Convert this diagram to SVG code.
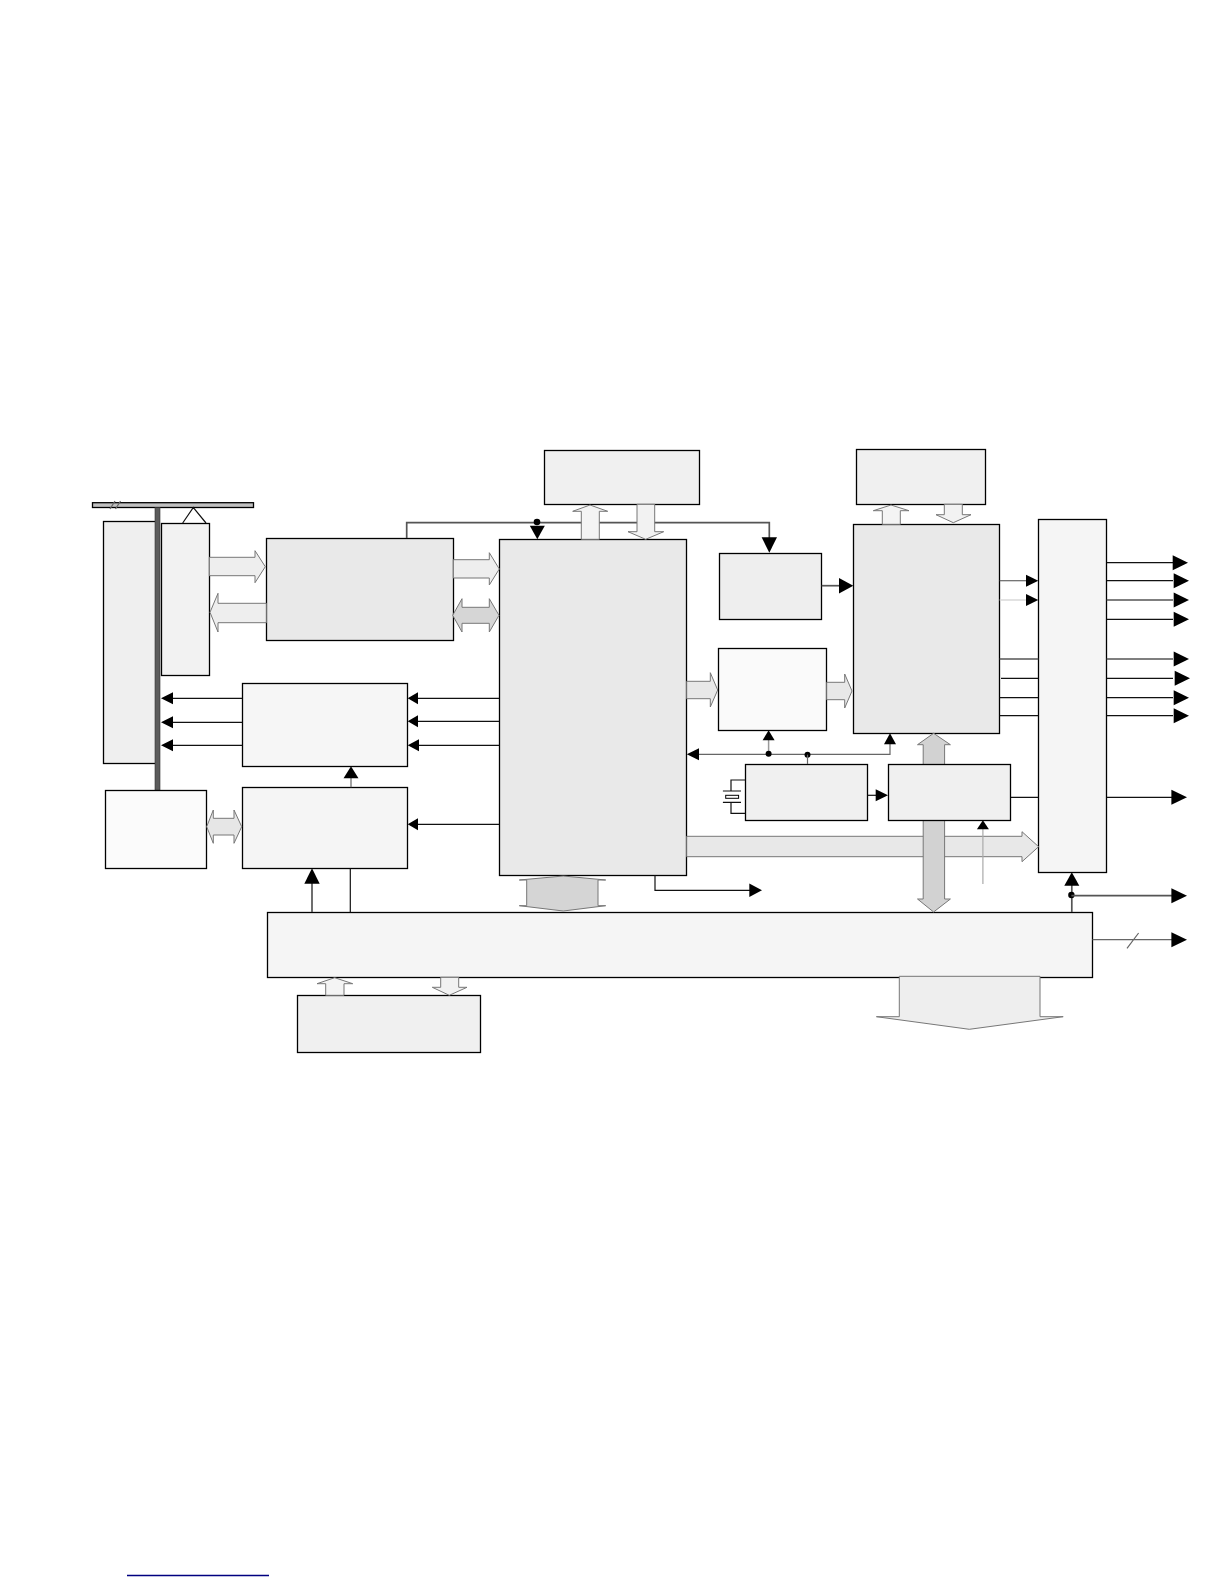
<svg xmlns="http://www.w3.org/2000/svg" width="1224" height="1584" viewBox="0 0 1224 1584">
<style>
.n{stroke:#000;stroke-width:1.3}
.w{stroke:#777;stroke-width:1;stroke-linejoin:miter}
.l{fill:none;stroke:#111;stroke-width:1.2}
.g{fill:none;stroke:#666;stroke-width:1.2}
.t{fill:none;stroke:#555;stroke-width:1.7}
.h{fill:#000;stroke:none}
</style>
<rect width="1224" height="1584" fill="#fff"/>
<g id="bus-top"><rect x="92.5" y="502.7" width="161" height="4.8" fill="#c0c0c0" class="n"/><path d="M110 509L115 501M115.500 509L120.500 501" class="g"/><path d="M182.700 523L193.300 507.500L206 523" class="l" stroke-width="1"/></g>
<g id="node-left"><rect x="103.500" y="521.500" width="53" height="242" fill="#efefef" class="n"/></g>
<g id="bus-vertical"><rect x="155" y="507.500" width="5" height="283" fill="#5c5c5c" stroke="#333" stroke-width=".6"/></g>
<g id="node-antenna"><rect x="161.500" y="523.500" width="48" height="152" fill="#f2f2f2" class="n"/></g>
<g id="node-rf"><rect x="266.500" y="538.500" width="187" height="102" fill="#e9e9e9" class="n"/></g>
<g id="node-driver"><rect x="242.500" y="683.500" width="165" height="83" fill="#f6f6f6" class="n"/></g>
<g id="node-codec"><rect x="242.500" y="787.500" width="165" height="81" fill="#f5f5f5" class="n"/></g>
<g id="node-sim"><rect x="105.500" y="790.500" width="101" height="78" fill="#fbfbfb" class="n"/></g>
<g id="node-main"><rect x="499.500" y="539.500" width="187" height="336" fill="#e9e9e9" class="n"/></g>
<g id="node-mem1"><rect x="544.500" y="450.500" width="155" height="54" fill="#f0f0f0" class="n"/></g>
<g id="node-mem2"><rect x="856.500" y="449.500" width="129" height="55" fill="#f0f0f0" class="n"/></g>
<g id="node-ctrl"><rect x="719.500" y="553.500" width="102" height="66" fill="#eee" class="n"/></g>
<g id="node-fft"><rect x="718.500" y="648.500" width="108" height="82" fill="#fafafa" class="n"/></g>
<g id="node-proc"><rect x="853.500" y="524.500" width="146" height="209" fill="#e9e9e9" class="n"/></g>
<g id="node-out"><rect x="1038.500" y="519.500" width="68" height="353" fill="#f5f5f5" class="n"/></g>
<g id="node-clock"><rect x="745.500" y="764.500" width="122" height="56" fill="#f0f0f0" class="n"/></g>
<g id="node-bus"><rect x="267.500" y="912.500" width="825" height="65" fill="#f5f5f5" class="n"/></g>
<g id="node-lower"><rect x="297.500" y="995.500" width="183" height="57" fill="#f0f0f0" class="n"/></g>
<g id="connectors">
<polygon class="w" fill="#eee" points="209.300,557.300 255,557.300 255,550.700 265.300,566.700 255,582.700 255,575.700 209.300,575.700"/>
<polygon class="w" fill="#eee" points="266.300,603.300 218,603.300 218,593.300 210,612.300 218,632 218,622.700 266.300,622.700"/>
<polygon class="w" fill="#eee" points="453.300,559.700 489.300,559.700 489.300,552.700 499.300,569 489.300,585 489.300,578 453.300,578"/>
<polygon class="w" fill="#d6d6d6" points="452.700,615.300 462,598.700 462,607.300 489.300,607.300 489.300,598.700 499,615.300 489.300,632 489.300,623.300 462,623.300 462,632"/>
<polygon class="w" fill="#e6e6e6" points="206.700,826.700 213.300,810 213.300,818.300 234,818.300 234,810 241.700,826.700 234,843.300 234,835 213.300,835 213.300,843.300"/>
<path class="t" d="M406.700 538V522.700H769.300V538"/>
<circle class="h" cx="537" cy="522" r="3.300"/><polygon class="h" points="537.300,539.300 529.800,525.700 544.800,525.700"/>
<polygon class="h" points="769.300,552.700 761.600,537.300 777,537.300"/>
<polygon class="w" fill="#f4f4f4" points="581.300,539.300 581.300,511.300 572.700,511.300 590,505 607.700,511.300 599.300,511.300 599.300,539.300"/>
<polygon class="w" fill="#f2f2f2" points="637,504.300 654.700,504.300 654.700,531.700 663.700,531.700 645.700,539.300 628,531.700 637,531.700"/>
<polygon class="w" fill="#f4f4f4" points="882.300,524.300 882.300,510.700 873.300,510.700 891,505 909,510.700 900.300,510.700 900.300,524.300"/>
<polygon class="w" fill="#f2f2f2" points="944.300,504.300 962.300,504.300 962.300,514.700 971,514.700 953.300,522.700 936,514.700 944.300,514.700"/>
<polygon class="w" fill="#e8e8e8" points="686.700,681.300 710.300,681.300 710.300,672.700 717.700,690 710.300,707 710.300,698.700 686.700,698.700"/>
<polygon class="w" fill="#e8e8e8" points="826.700,682.300 844.700,682.300 844.700,674 852,691 844.700,708 844.700,699.700 826.700,699.700"/>
<path class="t" d="M821.700 585.700H840"/><polygon class="h" points="853.300,585.700 839,578 839,593.400"/>
<path class="l" d="M242.300 698.300H172M242.300 722.300H172M242.300 745.300H172M499.300 698.300H418M499.300 721.300H418M499.300 745.300H418M499.300 824.300H418"/>
<polygon class="h" points="161,698.300 173,692.300 173,704.300"/><polygon class="h" points="161,722.300 173,716.300 173,728.300"/><polygon class="h" points="161,745.300 173,739.300 173,751.300"/>
<polygon class="h" points="407.700,698.300 418,692.300 418,704.300"/><polygon class="h" points="407.700,721.300 418,715.300 418,727.300"/><polygon class="h" points="407.700,745.300 419,739.300 419,751.300"/><polygon class="h" points="407.700,824.300 418,818.300 418,830.300"/>
<path class="g" d="M351 787.300V778" stroke-width="1.500"/><polygon class="h" points="351,766.300 343.500,778.300 358.500,778.300"/>
<path class="t" d="M312 912V883" stroke-width="2"/><polygon class="h" points="312,868.300 304.300,883.700 319.700,883.700"/>
<path class="l" d="M350.300 868.500V912.500"/>
<path class="g" d="M999.700 580.700H1027"/><path d="M999.700 600H1027" fill="none" stroke="#d8d8d8" stroke-width="1.500"/>
<polygon class="h" points="1038.300,580.700 1026,574.700 1026,586.700"/><polygon class="h" points="1038.300,600 1026,594 1026,606"/>
<path class="t" d="M999.700 659H1038.300"/><path class="l" d="M1001 678.300H1038.300M999.700 697.700H1038.300M999.700 715.700H1038.300"/>
<path class="l" d="M1106.700 562.700H1173M1106.700 580.700H1173M1106.700 619.300H1173M1106.700 678.300H1173M1106.700 697.700H1173M1106.700 715.700H1173"/><path class="t" d="M1106.700 600H1173M1106.700 659H1173"/>
<polygon class="h" points="1188,562.700 1172.700,555.200 1172.700,570.200"/><polygon class="h" points="1189,580.700 1173.700,573.200 1173.700,588.200"/><polygon class="h" points="1189,600 1173.700,592.500 1173.700,607.500"/><polygon class="h" points="1189,619.300 1173.700,611.800 1173.700,626.800"/><polygon class="h" points="1189,659 1173.700,651.500 1173.700,666.500"/><polygon class="h" points="1190,678.300 1174.700,670.800 1174.700,685.800"/><polygon class="h" points="1189,697.700 1173.700,690.200 1173.700,705.200"/><polygon class="h" points="1189,715.700 1173.700,708.200 1173.700,723.200"/>
<path class="g" d="M699 754.300H890V744"/><polygon class="h" points="686.800,754.300 699,748.300 699,760.300"/><polygon class="h" points="890,733.300 884,744.300 896,744.300"/>
<path d="M768.600 753.700V740" fill="none" stroke="#999" stroke-width="1.500"/><polygon class="h" points="768.600,730.300 762.600,740.300 774.600,740.300"/><circle class="h" cx="768.600" cy="753.700" r="3"/>
<circle class="h" cx="807.500" cy="754.700" r="3"/><path class="g" d="M807.500 754.700V764"/>
<path class="l" d="M867.500 795.300H877"/><polygon class="h" points="888,795.300 875.700,789.300 875.700,801.300"/>
<path class="l" d="M745.400 780H731V790.700M722.900 791H741M722.900 802.300H741M731 802.300V813.300H745.400M1010.700 797.300H1038.300M1106.800 797.300H1172"/>
<rect x="725.700" y="795.300" width="12.900" height="3" fill="#fff" stroke="#000" stroke-width="1"/>
<polygon class="h" points="1187,797.300 1171.400,789.800 1171.400,804.800"/>
<polygon class="w" fill="#e8e8e8" points="686.700,836.300 1022,836.300 1022,831.700 1038.600,846.700 1022,861.700 1022,856.700 686.700,856.700"/>
<path d="M982.900 884V829" fill="none" stroke="#aaa" stroke-width="1.200"/><polygon class="h" points="982.900,820.300 976.900,829.300 988.900,829.300"/>
<polygon class="w" fill="#d2d2d2" points="933.600,733.300 950.400,744.700 944.600,744.700 944.600,899 950.400,899 933.600,912 917.500,899 923.200,899 923.200,744.700 917.500,744.700"/>
<path class="l" d="M655 875.300V890.300H750"/><polygon class="h" points="762,890.300 749.300,883.600 749.300,897"/>
<polygon class="w" fill="#d5d5d5" points="563.300,876 605.700,880 598,880 598,905.700 605.700,905.700 563.300,911 519.300,905.700 526.700,905.700 526.700,880 519.300,880"/>
<path class="t" d="M1071.800 912V885" stroke-width="2"/><polygon class="h" points="1071.800,872.300 1064.300,885.700 1079.300,885.700"/><circle class="h" cx="1071.400" cy="895" r="3.200"/>
<path class="t" d="M1071.400 895.700H1172" stroke-width="1.500"/><polygon class="h" points="1187,895.700 1171.400,888.200 1171.400,903.200"/>
<path class="g" d="M1092.500 939.700H1172M1127 948.300L1138.600 933"/><polygon class="h" points="1187,939.700 1171.400,932.200 1171.400,947.200"/>
<polygon class="w" fill="#eee" points="899.300,976.300 1040,976.300 1040,1016.700 1063.200,1016.700 969.300,1029.300 876.400,1016.700 899.300,1016.700"/>
<polygon class="w" fill="#f4f4f4" points="325.700,995.300 325.700,983.700 317,983.700 334.700,977.700 352.700,983.700 344,983.700 344,995.300"/>
<polygon class="w" fill="#f2f2f2" points="440.700,977.300 458.700,977.300 458.700,987.300 467,987.300 449.300,995.300 432.300,987.300 440.700,987.300"/>
</g>
<g id="node-timer"><rect x="888.500" y="764.500" width="122" height="56" fill="#f0f0f0" class="n"/></g>
<path id="footer-rule" d="M127 1575.500H269" fill="none" stroke="#000080" stroke-width="1.400"/>
</svg>
